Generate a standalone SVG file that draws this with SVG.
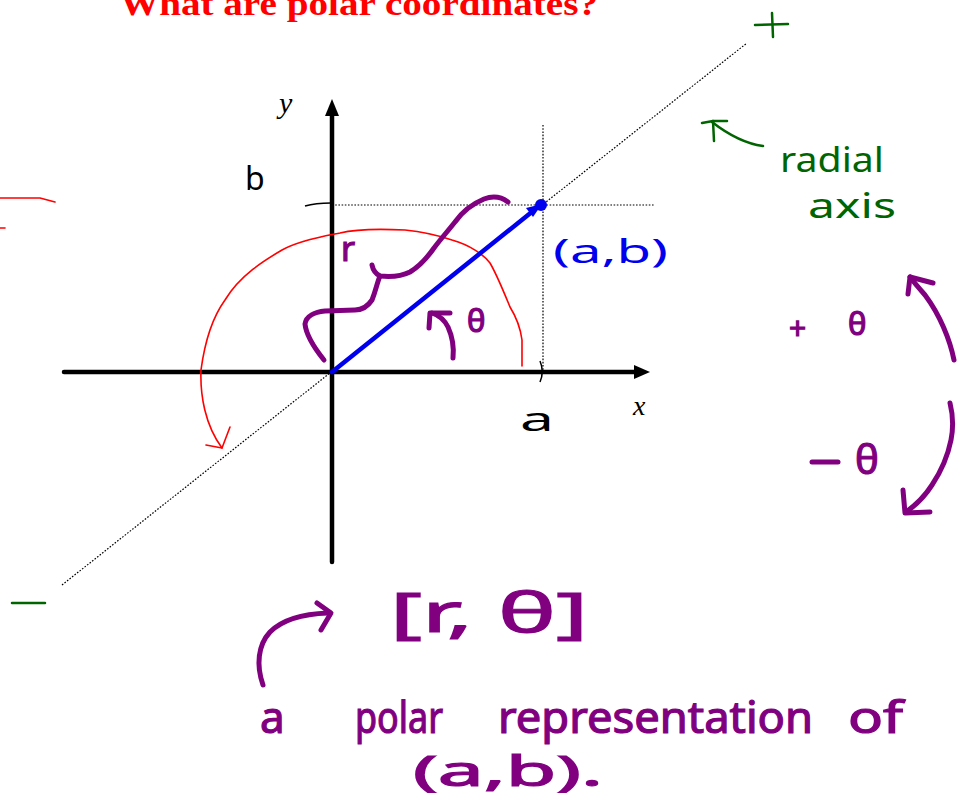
<svg xmlns="http://www.w3.org/2000/svg" width="957" height="804" viewBox="0 0 957 804">
<style>
.dot{stroke:#000;stroke-width:1.2;stroke-dasharray:1.6 1.6;fill:none}
.axis{stroke:#000;stroke-width:4.5;fill:none;stroke-linecap:round}
.red{stroke:#ff0000;stroke-width:1.6;fill:none;stroke-linecap:round;stroke-linejoin:round}
.pur{stroke:#800080;stroke-width:5;fill:none;stroke-linecap:round;stroke-linejoin:round}
.grn{stroke:#006400;stroke-width:2.5;fill:none;stroke-linecap:round;stroke-linejoin:round}
.blu{stroke:#0000ee;stroke-width:4.5;fill:none;stroke-linecap:round}
.hand{font-family:"Noto Sans","DejaVu Sans",sans-serif}
.pt{fill:#800080;stroke:#800080;stroke-width:1.2}
.gt{fill:#006400}
.math{font-family:"Liberation Serif",serif;font-style:italic;fill:#000}
</style>
<rect width="957" height="804" fill="#fff"/>
<g id="title">
<text x="120" y="15" font-family="Liberation Serif,serif" font-weight="bold" font-size="34" fill="#ff0000" textLength="478" lengthAdjust="spacingAndGlyphs">What are polar coordinates?</text>
</g>
<g id="guides">
<path class="dot" d="M62,585 L747,43"/>
<path class="dot" d="M332,205 L655,205"/>
<path class="dot" d="M543,125 L543,372"/>
</g>
<g id="axes">
<path class="axis" d="M64,372 L638,372"/>
<path d="M650,372 L634,365 L634,379 Z" fill="#000"/>
<path class="axis" d="M332,562 L332,112"/>
<path d="M332,99 L325,116 L339,116 Z" fill="#000"/>
<path stroke="#000" stroke-width="1.5" fill="none" d="M305,206 C312,204 322,203 331,203"/>
<path stroke="#000" stroke-width="1.5" fill="none" d="M540,361 C543,368 543,375 540,382"/>
<text class="math" x="279" y="113" font-size="30">y</text>
<text class="math" x="633" y="415" font-size="28">x</text>
<text class="hand" x="245" y="190" font-size="32" fill="#000">b</text>
<text class="hand" x="520" y="431" font-size="32" fill="#000" textLength="34" lengthAdjust="spacingAndGlyphs">a</text>
</g>
<g id="red-arc">
<path class="red" d="M522,366 L522,340 C520,325 515,315 510,307 C503,290 497,275 490,263 C484,255 470,245 452,240 C440,236 425,232 405,230 C385,229 360,228 340,233 C325,236 300,240 282,250 C265,260 240,275 225,300 C212,318 205,340 201,370 C200,395 205,425 222,448"/>
<path class="red" d="M206,445 L222,448 L230,427"/>
<path class="red" d="M0,198 L40,198 L55,202"/>
<path class="red" d="M0,228 L5,228"/>
</g>
<g id="vector">
<path class="blu" d="M332,372 L533,211"/>
<path d="M542,204 L526,208 L533,217 Z" fill="#0000ee"/>
<circle cx="541" cy="205" r="6" fill="#0000ee"/>
<text class="hand" x="553" y="263" font-size="32" fill="#0000ee" textLength="115" lengthAdjust="spacingAndGlyphs">(a,b)</text>
</g>
<g id="r-label">
<path class="pur" d="M508,202 C500,196 492,196 484,199 C472,204 462,212 455,222 C447,232 440,240 434,248 C427,258 420,266 410,272 C400,277 390,277 380,276 C376,274 373,270 372,265"/>
<path class="pur" d="M380,276 C377,283 376,290 372,300 C368,306 362,310 355,310 L325,311 C315,312 306,316 305,324 C306,334 312,345 324,360"/>
<text class="hand pt" x="341" y="261" font-size="34">r</text>
</g>
<g id="theta-label">
<path class="pur" d="M453,358 C454,348 453,338 448,327 C444,319 438,315 432,313"/>
<path class="pur" d="M429,328 L430,313 L450,313"/>
<text class="hand pt" x="467" y="332" font-size="31">θ</text>
</g>
<g id="radial-label">
<path class="grn" d="M755,25 L788,24"/>
<path class="grn" d="M772,13 L773,37"/>
<path class="grn" d="M763,146 C748,144 730,136 712,122"/>
<path class="grn" d="M702,123 L713,121 L727,121"/>
<path class="grn" d="M713,121 L714,141"/>
<text class="hand gt" x="780" y="172" font-size="34" textLength="104" lengthAdjust="spacingAndGlyphs">radial</text>
<text class="hand gt" x="808" y="218" font-size="34" textLength="88" lengthAdjust="spacingAndGlyphs">axis</text>
<path class="grn" d="M12,603 L45,603"/>
</g>
<g id="direction">
<text class="hand pt" x="789" y="339" font-size="30">+</text>
<text class="hand pt" x="848" y="335" font-size="31">θ</text>
<path class="pur" d="M954,360 C950,340 940,315 925,295 C918,287 913,281 910,277"/>
<path class="pur" d="M908,294 L910,277 L933,283"/>
<path class="pur" d="M812,462 L838,462"/>
<text class="hand pt" x="855" y="474" font-size="40">θ</text>
<path class="pur" d="M950,403 C953,415 953,430 951,440 C948,455 942,470 932,485 C925,496 916,505 906,512"/>
<path class="pur" d="M903,490 L905,513 L930,512"/>
</g>
<g id="polar-rep">
<text class="hand pt" x="390" y="632" font-size="54" textLength="198" lengthAdjust="spacingAndGlyphs">[r, θ]</text>
<path class="pur" d="M263,685 C256,665 258,645 270,632 C282,620 300,614 328,613"/>
<path class="pur" d="M317,603 L331,613 L321,630"/>
<text class="hand pt" x="260" y="733" font-size="44">a</text>
<text class="hand pt" x="355" y="733" font-size="44" textLength="88" lengthAdjust="spacingAndGlyphs">polar</text>
<text class="hand pt" x="498" y="733" font-size="44" textLength="315" lengthAdjust="spacingAndGlyphs">representation</text>
<text class="hand pt" x="848" y="733" font-size="44" textLength="55" lengthAdjust="spacingAndGlyphs">of</text>
<text class="hand pt" x="413" y="786" font-size="42" textLength="190" lengthAdjust="spacingAndGlyphs">(a,b).</text>
</g>
</svg>
